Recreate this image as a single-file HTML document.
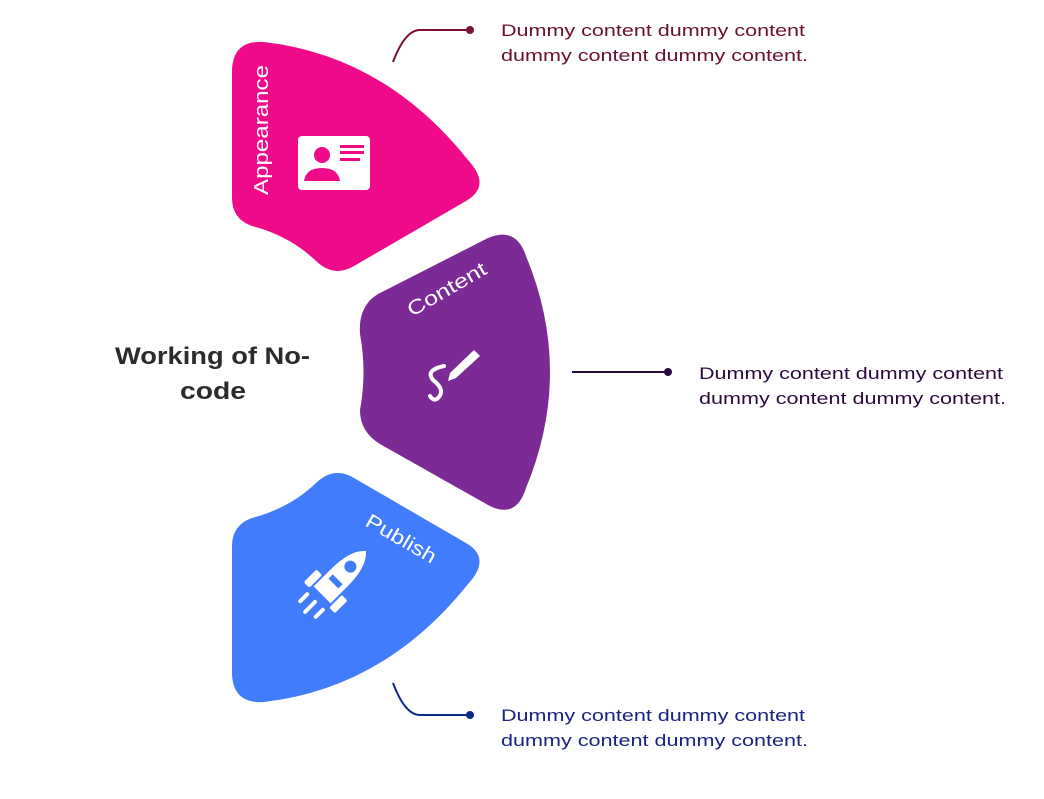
<!DOCTYPE html>
<html><head><style>
body{margin:0;width:1044px;height:794px;background:#fff;overflow:hidden;font-family:"Liberation Sans",sans-serif}
</style></head><body>
<svg width="1044" height="794" viewBox="0 0 1044 794" xmlns="http://www.w3.org/2000/svg" font-family="Liberation Sans, sans-serif">
<path d="M232 72 Q232 40 264 42 Q385 56 468 160 Q492 186 466 201 L354 266 Q334 278 316 261 Q290 236 252 226 Q232 219 232 198 Z" fill="#ef0a8a"/>
<path d="M378 294 L488 238 Q516 226 526 256 Q574 372 526 488 Q516 520 488 505 L380 444 Q360 432 360 410 Q367 372 360 334 Q358 306 378 294 Z" fill="#7b2a96"/>
<path d="M232 672 Q232 704 264 702 Q385 688 468 584 Q492 558 466 543 L354 478 Q334 466 316 483 Q290 508 252 518 Q232 525 232 546 Z" fill="#407cfb"/>

<text transform="translate(268,195) rotate(-90)" fill="#fff" font-size="20" textLength="130" lengthAdjust="spacingAndGlyphs">Appearance</text>
<rect x="298" y="136" width="72" height="54" rx="4" fill="#fff"/>
<circle cx="322" cy="155" r="8" fill="#ef0a8a"/>
<path d="M304 181 Q306 168 322 168 Q338 168 340 181 Z" fill="#ef0a8a"/>
<rect x="340" y="145" width="24" height="3" fill="#ef0a8a"/>
<rect x="340" y="151" width="24" height="3" fill="#ef0a8a"/>
<rect x="340" y="158" width="20" height="3" fill="#ef0a8a"/>

<text transform="translate(412,317) rotate(-30)" fill="#fff" font-size="20" textLength="88" lengthAdjust="spacingAndGlyphs">Content</text>
<path d="M444 366 Q425 370 433 380 Q446 390 438 398 Q434 402 430 396" stroke="#fff" stroke-width="4" fill="none" stroke-linecap="round"/>
<path d="M450 373 L474 350 L480 356 L456 378 L448 381 Z" fill="#fff"/>

<text transform="translate(364,525) rotate(30)" fill="#fff" font-size="20" textLength="78" lengthAdjust="spacingAndGlyphs">Publish</text>
<g transform="translate(332,585) rotate(45)" fill="#fff">
<path d="M-12 -10 Q-12 -38 0 -48 Q12 -38 12 -10 L12 14 L-12 14 Z"/>
<rect x="-22" y="0" width="8" height="18" rx="2"/>
<rect x="14" y="0" width="8" height="18" rx="2"/>
<circle cx="0" cy="-26" r="6" fill="#407cfb"/>
<rect x="-7" y="-8" width="14" height="6" fill="#407cfb"/>
<rect x="-13" y="22" width="4" height="14" rx="2"/>
<rect x="-2" y="22" width="4" height="18" rx="2"/>
<rect x="9" y="22" width="4" height="14" rx="2"/>
</g>

<text x="115" y="364" font-size="24" font-weight="bold" fill="#2b2b2b" textLength="195" lengthAdjust="spacingAndGlyphs">Working of No-</text>
<text x="180" y="399" font-size="24" font-weight="bold" fill="#2b2b2b" textLength="66" lengthAdjust="spacingAndGlyphs">code</text>

<path d="M393 62 Q405 30 420 30 L470 30" stroke="#7a1038" stroke-width="2" fill="none"/>
<circle cx="470" cy="30" r="4" fill="#7a1038"/>
<text x="501" y="36" font-size="17" fill="#6b1030" textLength="304" lengthAdjust="spacingAndGlyphs">Dummy content dummy content</text>
<text x="501" y="61" font-size="17" fill="#6b1030" textLength="307" lengthAdjust="spacingAndGlyphs">dummy content dummy content.</text>

<path d="M572 372 L668 372" stroke="#2a0a3a" stroke-width="2"/>
<circle cx="668" cy="372" r="4" fill="#2a0a3a"/>
<text x="699" y="379" font-size="17" fill="#2a0a3a" textLength="304" lengthAdjust="spacingAndGlyphs">Dummy content dummy content</text>
<text x="699" y="404" font-size="17" fill="#2a0a3a" textLength="307" lengthAdjust="spacingAndGlyphs">dummy content dummy content.</text>

<path d="M393 683 Q405 715 420 715 L470 715" stroke="#0d2a8a" stroke-width="2" fill="none"/>
<circle cx="470" cy="715" r="4" fill="#0d2a8a"/>
<text x="501" y="721" font-size="17" fill="#1a237e" textLength="304" lengthAdjust="spacingAndGlyphs">Dummy content dummy content</text>
<text x="501" y="746" font-size="17" fill="#1a237e" textLength="307" lengthAdjust="spacingAndGlyphs">dummy content dummy content.</text>
</svg>
</body></html>
